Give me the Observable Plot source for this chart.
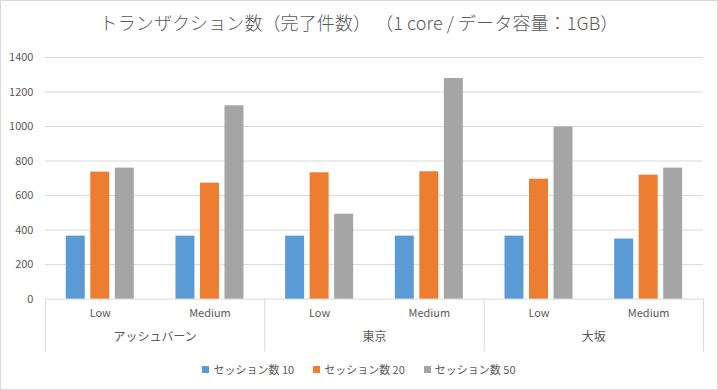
<!DOCTYPE html>
<html><head><meta charset="utf-8">
<script src="https://cdn.jsdelivr.net/npm/d3@7"></script>
<script src="https://cdn.jsdelivr.net/npm/@observablehq/plot@0.6"></script>
<style>
body{margin:0;background:#fff;}
#chart{position:relative;width:718px;height:390px;box-sizing:border-box;border:1px solid #d9d9d9;font-family:"Noto Sans CJK JP","Noto Sans",sans-serif;color:#595959;overflow:hidden;background:#fff;}
#title{position:absolute;top:9px;left:0;width:100%;text-align:center;font-size:18px;line-height:24px;font-weight:300;letter-spacing:0.1px;}
#plot{position:absolute;top:39px;left:-1px;}
#legend{position:absolute;top:361px;left:0;width:100%;display:flex;justify-content:center;gap:19px;font-size:11px;line-height:14px;}
#legend .item{display:flex;align-items:center;}
#legend .sw{width:7px;height:7px;margin-right:4px;display:inline-block;}
</style></head>
<body>
<div id="chart">
  <div id="title">トランザクション数（完了件数） （1 core / データ容量：1GB）</div>
  <div id="plot"></div>
  <div id="legend"></div>
</div>
<script>
const groups = ["アッシュバーン", "東京", "大坂"];
const levels = ["Low", "Medium"];
const seriesNames = ["セッション数 10", "セッション数 20", "セッション数 50"];
const seriesColors = ["#5B9BD5", "#ED7D31", "#A5A5A5"];
const s10 = [365, 365, 365, 365, 365, 348];
const s20 = [736, 672, 732, 738, 695, 718];
const s50 = [759, 1120, 492, 1278, 997, 759];
const yTicks = [0, 200, 400, 600, 800, 1000, 1200, 1400];

const keys = groups.flatMap(g => levels.map(l => g + "|" + l));
const seriesValues = [s10, s20, s50];
const rows = seriesValues.map((vals, j) => keys.map((k, i) => ({key: k, value: vals[i], series: seriesNames[j]})));

const W = 718, H = 320, mL = 45, mR = 14, mT = 17, mB = 61;
const pIn = 0.38, pOut = 0.19;
const step = (W - mL - mR) / (keys.length - pIn + 2 * pOut);
const band = step * (1 - pIn);
const barW = 19;
const gap = (band - 3 * barW) / 2;

const barMarks = rows.map((data, j) => Plot.barY(data, {
  x: "key", y: "value", fill: seriesColors[j],
  insetLeft: j * (barW + gap), insetRight: band - barW - j * (barW + gap)
}));

const sepData = [
  ...groups.map(g => ({key: g + "|Low", dx: -step / 2})),
  {key: groups[groups.length - 1] + "|Medium", dx: step / 2}
];

const plot = Plot.plot({
  width: W, height: H,
  marginLeft: mL, marginRight: mR, marginTop: mT, marginBottom: mB,
  style: {fontFamily: '"Noto Sans CJK JP", "Noto Sans", sans-serif', color: "#595959", background: "transparent"},
  x: {domain: keys, paddingInner: pIn, paddingOuter: pOut, round: false, label: null},
  y: {domain: [0, 1400], label: null},
  marks: [
    Plot.gridY(yTicks, {stroke: "#d9d9d9", strokeOpacity: 1}),
    ...barMarks,
    Plot.axisY({ticks: yTicks, tickSize: 0, tickPadding: 12, fontSize: 11, label: null, tickFormat: d => String(d)}),
    Plot.axisX({tickSize: 0, tickPadding: 10, fontSize: 11, tickFormat: d => d.split("|")[1], label: null}),
    Plot.text(groups, {x: g => g + "|Low", dx: step / 2, frameAnchor: "bottom", dy: 42, text: d => d, fontSize: 12, fill: "#595959"}),
    ...sepData.map(s => Plot.ruleX([s], {x: "key", dx: s.dx, stroke: "#d9d9d9", insetTop: H - mT - mB, insetBottom: -53}))
  ]
});
document.getElementById("plot").appendChild(plot);

const legend = document.getElementById("legend");
seriesNames.forEach((name, j) => {
  const item = document.createElement("div");
  item.className = "item";
  const sw = document.createElement("span");
  sw.className = "sw";
  sw.style.background = seriesColors[j];
  const t = document.createElement("span");
  t.textContent = name;
  item.appendChild(sw); item.appendChild(t);
  legend.appendChild(item);
});
</script>
</body></html>
